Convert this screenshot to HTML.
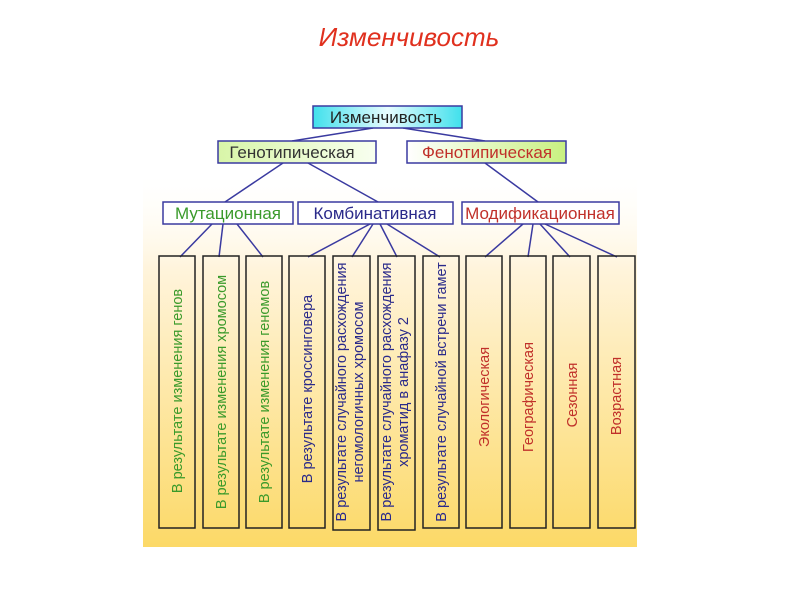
<!DOCTYPE html>
<html><head><meta charset="utf-8"><style>
html,body{margin:0;padding:0;background:#fff;}
svg{display:block;font-family:"Liberation Sans",sans-serif;}
</style></head><body>
<svg width="800" height="600" viewBox="0 0 800 600">
<defs>
<linearGradient id="bg" x1="0" y1="0" x2="0" y2="1">
<stop offset="0" stop-color="#fffef8" stop-opacity="0"/>
<stop offset="0.25" stop-color="#fff4dc"/>
<stop offset="1" stop-color="#fcd967"/>
</linearGradient>
<linearGradient id="cy" x1="0" y1="0" x2="1" y2="0">
<stop offset="0" stop-color="#40e0ec"/><stop offset="0.5" stop-color="#e8fcff"/><stop offset="1" stop-color="#40e0ec"/>
</linearGradient>
<linearGradient id="gr" x1="0" y1="0" x2="1" y2="0">
<stop offset="0" stop-color="#d8f5a8"/><stop offset="1" stop-color="#f8fff0"/>
</linearGradient>
<linearGradient id="gr2" x1="0" y1="0" x2="1" y2="0">
<stop offset="0" stop-color="#ffffff"/><stop offset="1" stop-color="#c8f080"/>
</linearGradient>
</defs>
<rect x="143" y="175" width="494" height="372" fill="url(#bg)"/>
<text x="409" y="46" text-anchor="middle" font-size="26" font-style="italic" fill="#e0301e">Изменчивость</text>
<g stroke="#3a3aa0" stroke-width="1.5" fill="none">
<line x1="373" y1="128" x2="292" y2="141"/><line x1="403" y1="128" x2="485" y2="141"/>
<line x1="283" y1="163" x2="225" y2="202"/><line x1="308" y1="163" x2="378" y2="202"/>
<line x1="485" y1="163" x2="538" y2="202"/>
<line x1="212" y1="224" x2="180" y2="257"/><line x1="223" y1="224" x2="219" y2="257"/><line x1="237" y1="224" x2="263" y2="257"/>
<line x1="370" y1="224" x2="308" y2="257"/><line x1="373" y1="224" x2="352" y2="257"/><line x1="380" y1="224" x2="397" y2="257"/><line x1="387" y1="224" x2="440" y2="257"/>
<line x1="523" y1="224" x2="485" y2="257"/><line x1="533" y1="224" x2="528" y2="257"/><line x1="540" y1="224" x2="570" y2="257"/><line x1="545" y1="224" x2="617" y2="257"/>
</g>
<g stroke="#3a3aa0" stroke-width="1.5">
<rect x="313" y="106" width="149" height="22" fill="url(#cy)"/>
<rect x="218" y="141" width="158" height="22" fill="url(#gr)"/>
<rect x="407" y="141" width="159" height="22" fill="url(#gr2)"/>
<rect x="163" y="202" width="130" height="22" fill="#fff"/>
<rect x="298" y="202" width="155" height="22" fill="#fff"/>
<rect x="462" y="202" width="157" height="22" fill="#fff"/>
</g>
<g font-size="17" text-anchor="middle">
<text x="386" y="123" fill="#222">Изменчивость</text>
<text x="292" y="158" fill="#333">Генотипическая</text>
<text x="487" y="158" fill="#c0302a">Фенотипическая</text>
<text x="228" y="219" fill="#3a9a2a">Мутационная</text>
<text x="375" y="219" fill="#2a2a8a">Комбинативная</text>
<text x="540" y="219" fill="#c0302a">Модификационная</text>
</g>
<g stroke="#222" stroke-width="1.5" fill="none">
<rect x="159" y="256" width="36" height="272"/>
<rect x="203" y="256" width="36" height="272"/>
<rect x="246" y="256" width="36" height="272"/>
<rect x="289" y="256" width="36" height="272"/>
<rect x="333" y="256" width="37" height="274"/>
<rect x="378" y="256" width="37" height="274"/>
<rect x="423" y="256" width="36" height="272"/>
<rect x="466" y="256" width="36" height="272"/>
<rect x="510" y="256" width="36" height="272"/>
<rect x="553" y="256" width="37" height="272"/>
<rect x="598" y="256" width="37" height="272"/>
</g>
<g font-size="14.5" text-anchor="middle">
<text transform="translate(182,391) rotate(-90)" fill="#3a9a2a">В результате изменения генов</text>
<text transform="translate(226,392) rotate(-90)" fill="#3a9a2a">В результате изменения хромосом</text>
<text transform="translate(269,392) rotate(-90)" fill="#3a9a2a">В результате изменения геномов</text>
<text transform="translate(312,389) rotate(-90)" fill="#2a2a8a">В результате кроссинговера</text>
<g fill="#2a2a8a">
<text transform="translate(346,392) rotate(-90)">В результате случайного расхождения</text>
<text transform="translate(363,392) rotate(-90)">негомологичных  хромосом</text>
<text transform="translate(391,392) rotate(-90)">В результате случайного расхождения</text>
<text transform="translate(408,392) rotate(-90)">хроматид в анафазу 2</text>
<text transform="translate(446,392) rotate(-90)">В результате случайной встречи гамет</text>
</g>
<g fill="#c0302a">
<text transform="translate(489,397) rotate(-90)">Экологическая</text>
<text transform="translate(533,397) rotate(-90)">Географическая</text>
<text transform="translate(577,395) rotate(-90)">Сезонная</text>
<text transform="translate(621,396) rotate(-90)">Возрастная</text>
</g>
</g>
</svg>
</body></html>
